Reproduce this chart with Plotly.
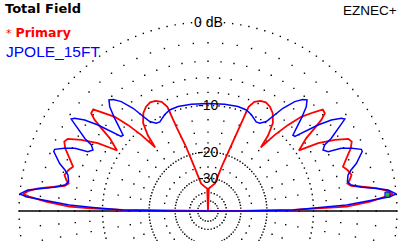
import numpy as np
import plotly.graph_objects as go

# ---- pattern data: right half (elevation 0..90 deg), pattern is symmetric ----
red_elev = [0, 0.2, 0.7, 1.3, 1.8, 3.3, 4.6, 5.2, 6.3, 7.6, 8.7, 10.0, 11.2, 12.3, 14.1,
            16.4, 18.2, 19.8, 21.8, 23.7, 25.8, 27.2, 29.3, 31.6, 33.0, 33.7, 34.6, 36.5,
            37.8, 38.8, 39.9, 41.5, 42.9, 45.3, 47.1, 48.7, 50.3, 51.5, 53.6, 56.5, 59.3,
            62.0, 64.5, 67.0, 68.7, 69.4, 71.1, 72.8, 75.8, 82.0, 88.0, 90.0]
red_db = [-99, -30, -13.7, -8.2, -5.3, -2.6, -0.9, -0.3, -0.73, -1.7, -3.0, -4.5, -4.9, -4.55, -4.2,
          -4.5, -4.9, -4.5, -3.9, -3.3, -2.9, -3.1, -4.5, -6.5, -8.5, -9.4, -8.8, -7.5,
          -5.8, -4.5, -3.7, -3.6, -4.5, -6.1, -8.2, -10.7, -14.2, -11.5, -9.4, -8.2, -7.6,
          -7.35, -7.5, -8.0, -9.0, -12.7, -17.5, -24.1, -32.5, -35.0, -36.5, -99]

blue_elev = [0, 0.2, 0.7, 1.8, 2.5, 3.8, 4.5, 5.2, 6.65, 7.8, 8.8, 10.3, 11.9, 14.4, 16.0,
             17.8, 19.7, 21.1, 21.9, 23.6, 25.2, 26.3, 27.9, 29.5, 30.5, 32.5, 33.5, 33.9,
             34.8, 36.4, 38.0, 39.4, 40.6, 41.8, 43.1, 44.8, 46.7, 48.3, 49.6, 51.6, 53.9,
             55.2, 56.9, 59.5, 61.6, 65.7, 69.2, 74.0, 81.1, 90.0]
blue_db = [-99, -30, -13.7, -8.5, -5.3, -2.3, -0.6, 0.0, -0.7, -2.0, -3.3, -4.5, -4.85, -4.6, -4.1,
           -3.3, -2.7, -2.3, -2.3, -3.2, -4.3, -5.9, -6.4, -5.9, -4.8, -3.5, -2.65, -2.35,
           -2.6, -3.6, -5.2, -7.1, -8.6, -8.7, -7.65, -6.2, -4.75, -4.1, -4.4, -5.2, -6.8,
           -8.2, -9.8, -10.6, -10.7, -10.0, -9.6, -9.5, -9.6, -9.7]

ring_labels = ["0 dB", "-10", "-20", "-30"]
ring_label_db = [0, -10, -20, -30]

# grid definition
dense_ring_db = [0, -10, -20, -30, -40, -50]
dense_ring_count = [144, 120, 120, 72, 36, 24]
sparse_ring_db = [-2, -4, -6, -8]
sparse_ring_step = 5
inner_ring_db = [-12.5, -15, -17.5, -25]
inner_ring_step = 10


def arrl(db):
    db = np.asarray(db, dtype=float)
    r = 0.89 ** (-db / 2.0)
    return np.where(db <= -99, 0.0, r)


def full_pattern(elev, db):
    e = list(elev) + [180 - t for t in reversed(elev)]
    d = list(db) + list(reversed(db))
    r = arrl(d)
    th = np.radians(e)
    return r * np.cos(th), r * np.sin(th)


fig = go.Figure()

gx, gy = [], []
for db, n in zip(dense_ring_db, dense_ring_count):
    r = float(arrl([db])[0])
    a = np.linspace(0, 2 * np.pi, n, endpoint=False)
    gx += list(r * np.cos(a)); gy += list(r * np.sin(a))
for db in sparse_ring_db:
    r = float(arrl([db])[0])
    a = np.radians(np.arange(0, 360, sparse_ring_step))
    gx += list(r * np.cos(a)); gy += list(r * np.sin(a))
for db in inner_ring_db:
    r = float(arrl([db])[0])
    a = np.radians(np.arange(0, 360, inner_ring_step))
    gx += list(r * np.cos(a)); gy += list(r * np.sin(a))

fig.add_trace(go.Scatter(x=gx, y=gy, mode="markers",
                         marker=dict(symbol="square", size=1.4, color="black", line=dict(width=0)),
                         hoverinfo="skip"))

# horizon line
fig.add_trace(go.Scatter(x=[-1, 1], y=[0, 0], mode="lines",
                         line=dict(color="black", width=1.5), hoverinfo="skip"))

rx, ry = full_pattern(red_elev, red_db)
fig.add_trace(go.Scatter(x=rx, y=ry, mode="lines", line=dict(color="#ff0000", width=1.8)))
bx, by = full_pattern(blue_elev, blue_db)
fig.add_trace(go.Scatter(x=bx, y=by, mode="lines", line=dict(color="#0000ff", width=1.5)))

# cursor marker at red max
i = int(np.argmax(red_db))
rm = float(arrl([red_db[i]])[0]) * 0.97
fig.add_trace(go.Scatter(x=[rm * np.cos(np.radians(red_elev[i]))], y=[rm * np.sin(np.radians(red_elev[i]))],
                         mode="markers", marker=dict(symbol="square", size=5, color="#20c020",
                                                      line=dict(color="#0000ff", width=1))))

annots = []
for lab, db in zip(ring_labels, ring_label_db):
    r = float(arrl([db])[0])
    annots.append(dict(x=0, y=r, xref="x", yref="y", text=lab, showarrow=False,
                       font=dict(family="Liberation Sans, Arial", size=14, color="black"),
                       xanchor="center", yanchor="middle"))

W, H = 418, 241
def px(x): return x / W
def py(y): return 1 - y / H

annots += [
    dict(x=px(3), y=py(9), xref="paper", yref="paper", text="<b>Total Field</b>", showarrow=False,
         xanchor="left", yanchor="middle", font=dict(family="DejaVu Sans", size=13, color="black")),
    dict(x=px(4), y=py(33), xref="paper", yref="paper",
         text="<span style='font-size:11px'>*</span> <b>Primary</b>", showarrow=False,
         xanchor="left", yanchor="middle", font=dict(family="DejaVu Sans", size=12.5, color="#ff0000")),
    dict(x=px(4), y=py(51), xref="paper", yref="paper", text="JPOLE_15FT", showarrow=False,
         xanchor="left", yanchor="middle", font=dict(family="Liberation Sans, Arial", size=15.5, color="#0000ff")),
    dict(x=px(399), y=py(11), xref="paper", yref="paper", text="EZNEC+", showarrow=False,
         xanchor="right", yanchor="middle", font=dict(family="Liberation Sans, Arial", size=13.5, color="black")),
]

R = 189.0
cx, cy = 208.0, 211.0
fig.update_layout(
    width=W, height=H, margin=dict(l=0, r=0, t=0, b=0, pad=0),
    paper_bgcolor="white", plot_bgcolor="white", showlegend=False,
    xaxis=dict(range=[-cx / R, (W - cx) / R], visible=False, fixedrange=True),
    yaxis=dict(range=[-(H - cy) / R, cy / R], visible=False, fixedrange=True),
    annotations=annots,
)

fig.write_html("out.html")
